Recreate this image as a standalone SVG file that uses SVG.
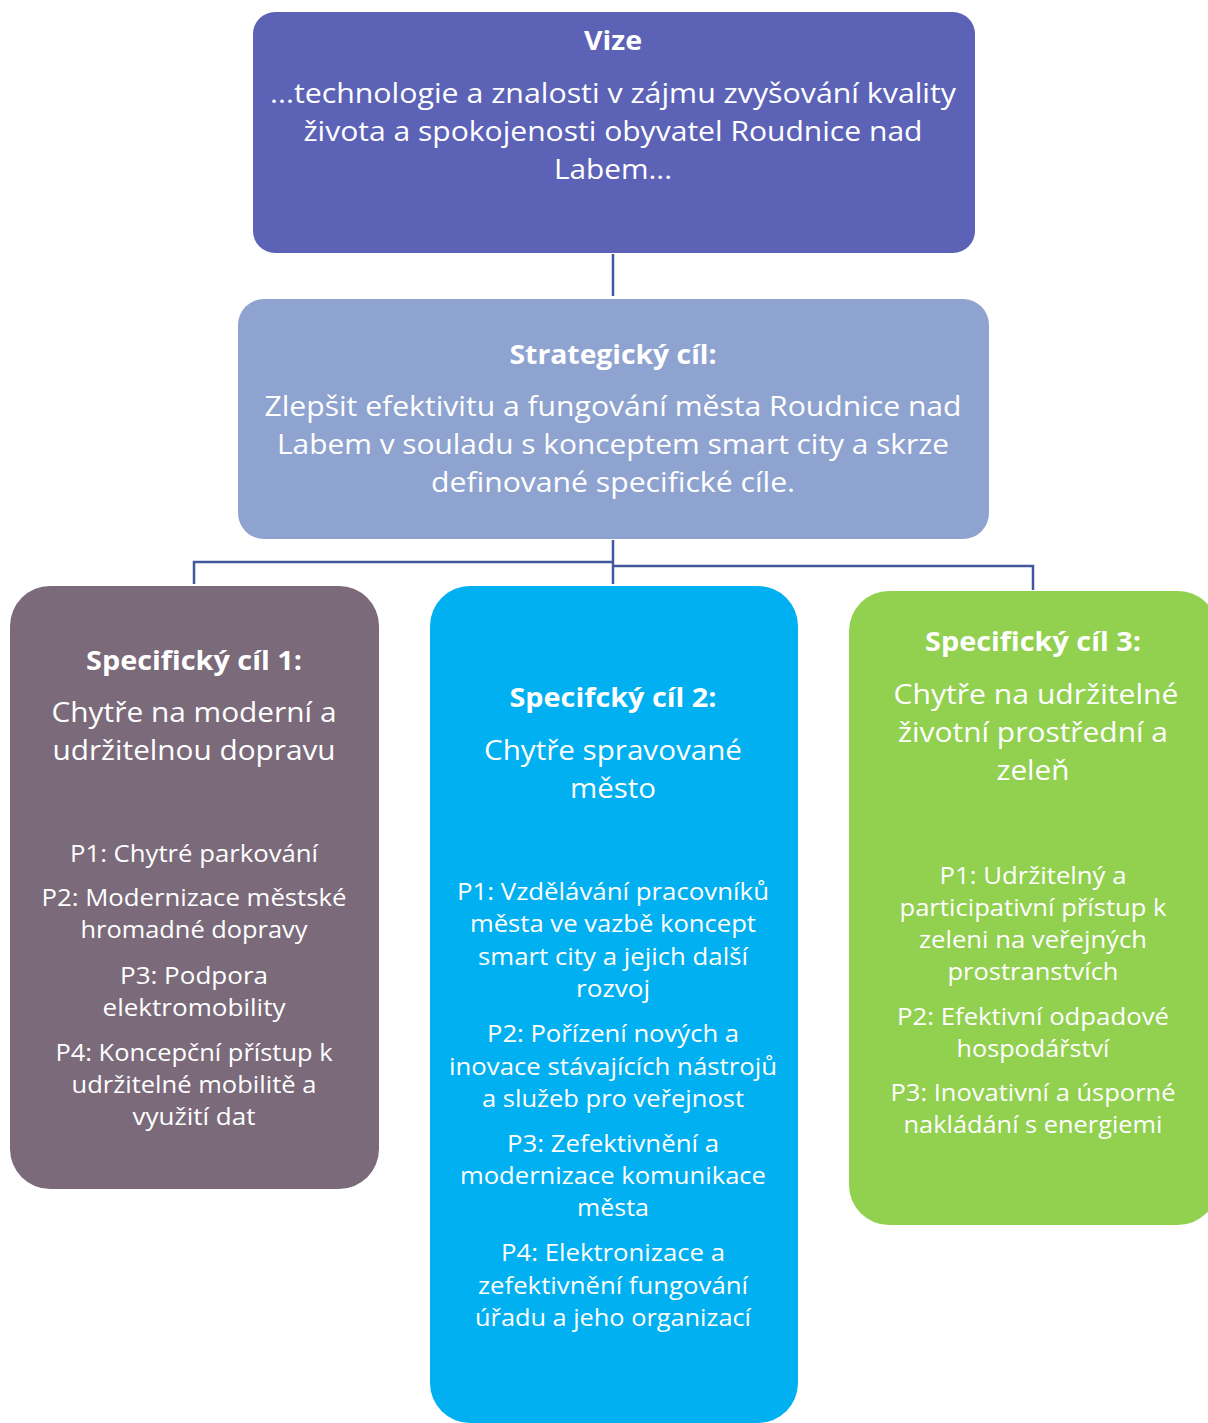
<svg xmlns="http://www.w3.org/2000/svg" width="1208" height="1423" viewBox="0 0 1208 1423">
<style>
text{font-family:"Open Sans","Noto Sans","Liberation Sans",sans-serif;fill:#ffffff;text-anchor:middle}
.b{font-weight:bold;font-size:27px}
.l{font-size:28px}
.s{font-size:23px}
.c{fill:none;stroke:#41589a;stroke-width:2.5}
</style>
<rect width="1208" height="1423" fill="#ffffff"/>
<g id="connectors">
<path class="c" d="M613 254V296"/>
<path class="c" d="M613 540V584"/>
<path class="c" d="M613 562H194V584"/>
<path class="c" d="M613 566H1033V590"/>
</g>
<g id="vize">
<rect x="253" y="12" width="722" height="241" rx="22" fill="#5c63b7"/>
<text class="b" x="613" y="50" textLength="58" lengthAdjust="spacingAndGlyphs">Vize</text>
<text class="l" x="613" y="103" textLength="686" lengthAdjust="spacingAndGlyphs">...technologie a znalosti v zájmu zvyšování kvality</text>
<text class="l" x="613" y="141" textLength="619" lengthAdjust="spacingAndGlyphs">života a spokojenosti obyvatel Roudnice nad</text>
<text class="l" x="613" y="179" textLength="118" lengthAdjust="spacingAndGlyphs">Labem...</text>
</g>
<g id="strategicky">
<rect x="238" y="299" width="751" height="240" rx="26" fill="#8fa3d0"/>
<text class="b" x="613" y="364" textLength="207" lengthAdjust="spacingAndGlyphs">Strategický cíl:</text>
<text class="l" x="613" y="416" textLength="697" lengthAdjust="spacingAndGlyphs">Zlepšit efektivitu a fungování města Roudnice nad</text>
<text class="l" x="613" y="454" textLength="672" lengthAdjust="spacingAndGlyphs">Labem v souladu s konceptem smart city a skrze</text>
<text class="l" x="613" y="492" textLength="364" lengthAdjust="spacingAndGlyphs">definované specifické cíle.</text>
</g>
<g id="sc1">
<rect x="10" y="586" width="369" height="603" rx="40" fill="#7a6a7a"/>
<text class="b" x="194" y="670" textLength="216" lengthAdjust="spacingAndGlyphs">Specifický cíl 1:</text>
<text class="l" x="194" y="722" textLength="285" lengthAdjust="spacingAndGlyphs">Chytře na moderní a</text>
<text class="l" x="194" y="760" textLength="283" lengthAdjust="spacingAndGlyphs">udržitelnou dopravu</text>
<text class="s" x="194" y="862" textLength="248" lengthAdjust="spacingAndGlyphs">P1: Chytré parkování</text>
<text class="s" x="194" y="906" textLength="305" lengthAdjust="spacingAndGlyphs">P2: Modernizace městské</text>
<text class="s" x="194" y="938" textLength="227" lengthAdjust="spacingAndGlyphs">hromadné dopravy</text>
<text class="s" x="194" y="984" textLength="148" lengthAdjust="spacingAndGlyphs">P3: Podpora</text>
<text class="s" x="194" y="1016" textLength="183" lengthAdjust="spacingAndGlyphs">elektromobility</text>
<text class="s" x="194" y="1061" textLength="277" lengthAdjust="spacingAndGlyphs">P4: Koncepční přístup k</text>
<text class="s" x="194" y="1093" textLength="245" lengthAdjust="spacingAndGlyphs">udržitelné mobilitě a</text>
<text class="s" x="194" y="1125" textLength="123" lengthAdjust="spacingAndGlyphs">využití dat</text>
</g>
<g id="sc2">
<rect x="430" y="586" width="368" height="837" rx="40" fill="#00b0f0"/>
<text class="b" x="613" y="707" textLength="207" lengthAdjust="spacingAndGlyphs">Specifcký cíl 2:</text>
<text class="l" x="613" y="760" textLength="258" lengthAdjust="spacingAndGlyphs">Chytře spravované</text>
<text class="l" x="613" y="798" textLength="86" lengthAdjust="spacingAndGlyphs">město</text>
<text class="s" x="613" y="900" textLength="312" lengthAdjust="spacingAndGlyphs">P1: Vzdělávání pracovníků</text>
<text class="s" x="613" y="932" textLength="286" lengthAdjust="spacingAndGlyphs">města ve vazbě koncept</text>
<text class="s" x="613" y="965" textLength="270" lengthAdjust="spacingAndGlyphs">smart city a jejich další</text>
<text class="s" x="613" y="997" textLength="74" lengthAdjust="spacingAndGlyphs">rozvoj</text>
<text class="s" x="613" y="1042" textLength="252" lengthAdjust="spacingAndGlyphs">P2: Pořízení nových a</text>
<text class="s" x="613" y="1075" textLength="328" lengthAdjust="spacingAndGlyphs">inovace stávajících nástrojů</text>
<text class="s" x="613" y="1107" textLength="262" lengthAdjust="spacingAndGlyphs">a služeb pro veřejnost</text>
<text class="s" x="613" y="1152" textLength="212" lengthAdjust="spacingAndGlyphs">P3: Zefektivnění a</text>
<text class="s" x="613" y="1184" textLength="306" lengthAdjust="spacingAndGlyphs">modernizace komunikace</text>
<text class="s" x="613" y="1216" textLength="72" lengthAdjust="spacingAndGlyphs">města</text>
<text class="s" x="613" y="1261" textLength="224" lengthAdjust="spacingAndGlyphs">P4: Elektronizace a</text>
<text class="s" x="613" y="1294" textLength="270" lengthAdjust="spacingAndGlyphs">zefektivnění fungování</text>
<text class="s" x="613" y="1326" textLength="276" lengthAdjust="spacingAndGlyphs">úřadu a jeho organizací</text>
</g>
<g id="sc3">
<rect x="849" y="591" width="369" height="634" rx="40" fill="#92d050"/>
<text class="b" x="1033" y="651" textLength="216" lengthAdjust="spacingAndGlyphs">Specifický cíl 3:</text>
<text class="l" x="1036" y="704" textLength="285" lengthAdjust="spacingAndGlyphs">Chytře na udržitelné</text>
<text class="l" x="1033" y="742" textLength="270" lengthAdjust="spacingAndGlyphs">životní prostřední a</text>
<text class="l" x="1033" y="780" textLength="73" lengthAdjust="spacingAndGlyphs">zeleň</text>
<text class="s" x="1033" y="884" textLength="187" lengthAdjust="spacingAndGlyphs">P1: Udržitelný a</text>
<text class="s" x="1033" y="916" textLength="267" lengthAdjust="spacingAndGlyphs">participativní přístup k</text>
<text class="s" x="1033" y="948" textLength="228" lengthAdjust="spacingAndGlyphs">zeleni na veřejných</text>
<text class="s" x="1033" y="980" textLength="171" lengthAdjust="spacingAndGlyphs">prostranstvích</text>
<text class="s" x="1033" y="1025" textLength="272" lengthAdjust="spacingAndGlyphs">P2: Efektivní odpadové</text>
<text class="s" x="1033" y="1057" textLength="153" lengthAdjust="spacingAndGlyphs">hospodářství</text>
<text class="s" x="1033" y="1101" textLength="285" lengthAdjust="spacingAndGlyphs">P3: Inovativní a úsporné</text>
<text class="s" x="1033" y="1133" textLength="259" lengthAdjust="spacingAndGlyphs">nakládání s energiemi</text>
</g>
</svg>
